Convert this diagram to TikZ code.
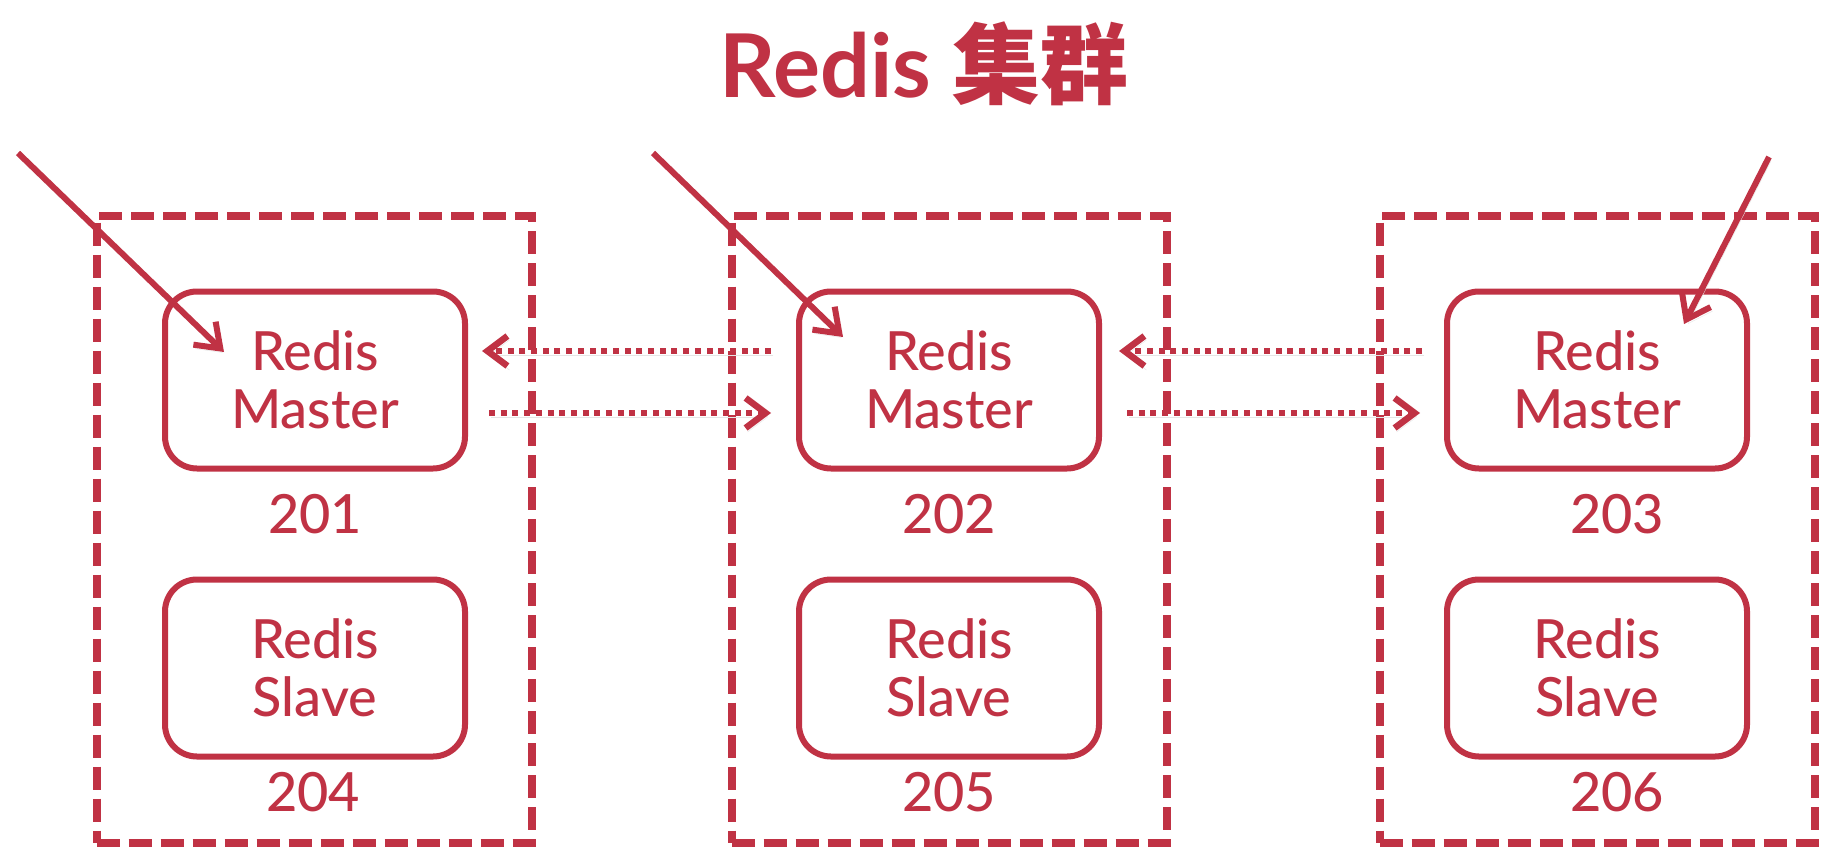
\documentclass[tikz,border=0pt]{standalone}
\usepackage{fontspec}
\setmainfont{Lato}[UprightFont={* Medium}, BoldFont={* Bold}]
\newfontfamily\cjk{Noto Sans CJK SC}
\usetikzlibrary{arrows.meta,calc}
\definecolor{rd}{RGB}{192,50,68}
\begin{document}
\begin{tikzpicture}[x=1pt,y=-1pt,
  every node/.style={text=rd},
  grp/.style={draw=rd, line width=8pt, dash pattern=on 23pt off 9pt, minimum width=435pt, minimum height=627pt, inner sep=0pt},
  nodebox/.style={draw=rd, line width=6pt, rounded corners=32pt, minimum width=300pt, minimum height=177pt, align=center, font=\fontsize{54}{58}\selectfont, inner sep=0pt},
  num/.style={font=\fontsize{54}{58}\selectfont, inner sep=0pt},
  shadowed/.style={preaction={draw=black!10, transform canvas={shift={(2pt,-4pt)}}}},
  inarrow/.style={draw=rd, line width=6pt, shadowed, -{Straight Barb[length=22pt,width=32pt]}},
  syncarrow/.style={draw=rd, line width=6.5pt, dash pattern=on 6pt off 5.7pt, shadowed, -{Straight Barb[length=20pt,width=30pt]}}
]
\useasboundingbox (0,0) rectangle (1843,867);
\fill[white] (0,0) rectangle (1843,867);

% title
\node[anchor=base, font=\fontsize{88}{88}\selectfont\bfseries, inner sep=0pt] (title) at (924,97) {Redis {\cjk\bfseries 集群}};

% groups
\node[grp] (gA) at (314,529) {};
\node[grp] (gB) at (949,529) {};
\node[grp] (gC) at (1597,529) {};

% masters
\node[nodebox] (mA) at (315,380) {Redis\\Master};
\node[nodebox] (mB) at (949,380) {Redis\\Master};
\node[nodebox] (mC) at (1597,380) {Redis\\Master};

% slaves
\node[nodebox] (sA) at (315,668) {Redis\\Slave};
\node[nodebox] (sB) at (949,668) {Redis\\Slave};
\node[nodebox] (sC) at (1597,668) {Redis\\Slave};

% numbers
\node[num] (n201) at (315,514) {201};
\node[num] (n202) at (949,514) {202};
\node[num] (n203) at (1617,514) {203};
\node[num] (n204) at (313,792) {204};
\node[num] (n205) at (949,792) {205};
\node[num] (n206) at (1617,792) {206};

% incoming arrows
\coordinate (cA) at (18,153);
\coordinate (cB) at (653,153);
\coordinate (cC) at (1769,157);
\draw[inarrow] (cA) -- ($(mA.center)+(-91,-28)$);
\draw[inarrow] (cB) -- ($(mB.center)+(-106,-43)$);
\draw[inarrow] (cC) -- ($(mC.center)+(87,-56)$);

% sync arrows
\draw[syncarrow] ([xshift=-25pt,yshift=29pt]mB.west) -- ([xshift=14pt,yshift=29pt]mA.east);
\draw[syncarrow] ([xshift=21pt,yshift=-33pt]mA.east) -- ([xshift=-25pt,yshift=-33pt]mB.west);
\draw[syncarrow] ([xshift=-22pt,yshift=29pt]mC.west) -- ([xshift=17pt,yshift=29pt]mB.east);
\draw[syncarrow] ([xshift=25pt,yshift=-33pt]mB.east) -- ([xshift=-24pt,yshift=-33pt]mC.west);
\end{tikzpicture}
\end{document}
